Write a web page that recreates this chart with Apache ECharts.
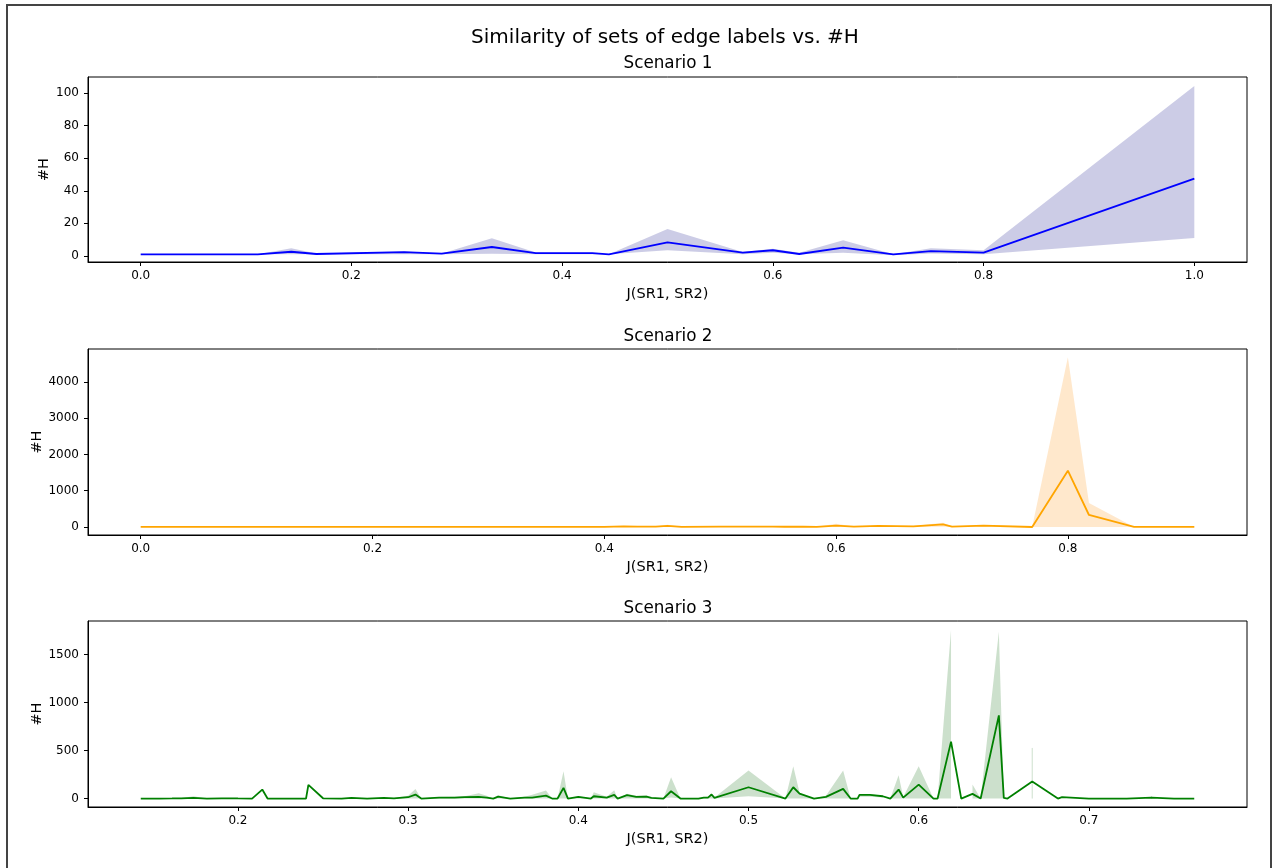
<!DOCTYPE html>
<html>
<head>
<meta charset="utf-8">
<script src="https://cdn.jsdelivr.net/npm/echarts@6/dist/echarts.min.js"></script>
<style>
  html, body { margin: 0; padding: 0; background: #fff; }
  #chart { width: 1275px; height: 868px; }
</style>
</head>
<body>
<div id="chart"></div>
<script>
// Scenario 1: J(SR1, SR2) against #H — mean line with a min/max band
var S1_X    = [0.0, 0.1111, 0.1429, 0.1667, 0.25, 0.2857, 0.3333, 0.375, 0.4286, 0.4444, 0.5, 0.5714, 0.6, 0.625, 0.6667, 0.7143, 0.75, 0.8, 1.0];
var S1_MEAN = [1.0, 1.0, 2.6, 1.2, 2.4, 1.4, 5.5, 1.8, 1.8, 1.0, 8.3, 2.0, 3.5, 1.2, 5.1, 1.0, 3.0, 2.0, 47.4];
var S1_LO   = [1.0, 1.0, 1.0, 1.0, 1.0, 1.0, 1.4, 1.0, 1.0, 1.0, 3.5, 1.0, 2.0, 1.0, 2.0, 0.5, 1.5, 1.0, 11.0];
var S1_HI   = [1.0, 1.0, 4.7, 1.5, 2.8, 1.5, 10.8, 2.2, 2.0, 1.0, 16.5, 2.5, 4.5, 2.0, 9.6, 1.0, 4.7, 3.5, 104.3];

// Scenario 2
var S2_X    = [0.0, 0.0588, 0.0909, 0.125, 0.1667, 0.2, 0.2222, 0.25, 0.2727, 0.2857, 0.3, 0.3333, 0.3571, 0.375, 0.4, 0.4167, 0.4286, 0.4444, 0.4545, 0.4667, 0.5, 0.5263, 0.5455, 0.5556, 0.5714, 0.5833, 0.6, 0.6154, 0.6364, 0.6667, 0.6923, 0.7, 0.7273, 0.7692, 0.8, 0.8182, 0.8571, 0.875, 0.9091];
var S2_MEAN = [1, 1, 1, 1, 1, 2, 1, 2, 1, 4, 2, 3, 2, 5, 3, 18, 8, 10, 28, 5, 10, 8, 12, 6, 10, 5, 40, 8, 28, 15, 70, 10, 40, 0, 1554, 331, 2, 1, 1];
var S2_LO   = [1, 1, 1, 1, 1, 1, 1, 1, 1, 1, 1, 1, 1, 1, 1, 5, 1, 1, 5, 1, 2, 1, 2, 1, 2, 1, 5, 1, 5, 2, 10, 1, 10, 0, 0, 0, 0, 1, 1];
var S2_HI   = [1, 1, 1, 1, 1, 3, 1, 3, 1, 8, 3, 5, 3, 10, 5, 25, 12, 15, 64, 8, 18, 12, 18, 10, 15, 8, 92, 12, 40, 25, 120, 15, 55, 0, 4680, 662, 2, 1, 1];

// Scenario 3 (null = no band at that point)
var S3_X    = [0.1429, 0.1538, 0.1613, 0.1667, 0.1739, 0.1818, 0.1905, 0.2, 0.2083, 0.2143, 0.2174, 0.2333, 0.24, 0.2414, 0.25, 0.2609, 0.2667, 0.2759, 0.2857, 0.2917, 0.3, 0.3043, 0.3077, 0.3182, 0.3273, 0.3333, 0.3415, 0.3462, 0.35, 0.3529, 0.36, 0.3684, 0.3729, 0.381, 0.3846, 0.3878, 0.3913, 0.3939, 0.4, 0.4074, 0.4091, 0.4167, 0.4211, 0.4231, 0.4286, 0.434, 0.44, 0.4429, 0.45, 0.4545, 0.46, 0.4706, 0.4737, 0.4762, 0.4783, 0.48, 0.5, 0.5217, 0.5263, 0.53, 0.5385, 0.5455, 0.5556, 0.56, 0.5641, 0.5652, 0.5714, 0.5789, 0.5833, 0.5882, 0.5909, 0.6, 0.6087, 0.6111, 0.619, 0.625, 0.6316, 0.6364, 0.6471, 0.65, 0.6522, 0.6667, 0.6818, 0.6842, 0.7, 0.7222, 0.7368, 0.75, 0.7619];
var S3_MEAN = [0, 0, 1, 2, 7, 0, 3, 1, 0, 94, 0, 0, 0, 142, 3, 0, 7, 0, 7, 3, 14, 42, 0, 10, 10, 14, 17, 10, 0, 21, 0, 10, 10, 31, 0, 0, 111, 0, 17, 0, 24, 10, 38, 0, 35, 17, 21, 7, 0, 76, 0, 0, 10, 10, 42, 7, 118, 0, 118, 52, 0, 17, 101, 0, 0, 38, 38, 24, 0, 94, 10, 146, 0, 0, 594, 0, 49, 0, 868, 7, 0, 177, 0, 14, 0, 0, 10, 0, 0];
var S3_LO   = [0, 0, 0, 0, 0, 0, 0, 0, 0, 94, 0, 0, 0, 142, 0, 0, 0, 0, 0, 0, 0, 0, 0, 0, 0, 0, 0, 0, 0, 0, 0, 0, 0, 0, 0, 0, 0, 0, 0, 0, 0, 0, 0, 0, 0, 0, 0, 0, 0, 10, 0, 0, 0, 0, 0, 0, 24, 0, 0, 0, 0, 0, 0, 0, 0, 20, 20, 10, 0, 0, 0, 0, 0, 0, 0, null, 0, 0, 0, 0, null, 0, null, null, null, null, 0, null, null];
var S3_HI   = [0, 0, 4, 6, 24, 0, 6, 3, 0, 94, 0, 0, 0, 142, 5, 0, 12, 0, 12, 6, 30, 100, 0, 15, 18, 25, 55, 30, 0, 35, 0, 20, 40, 83, 0, 0, 285, 0, 25, 0, 66, 20, 87, 0, 49, 30, 35, 10, 0, 222, 0, 0, 15, 20, 55, 10, 292, 0, 337, 60, 0, 30, 292, 0, 0, 45, 45, 30, 0, 243, 15, 337, 0, 0, 1760, null, 146, 0, 1740, 7, null, 528, null, null, null, null, 25, null, null];

var X_TICKS_12 = [0.0, 0.2, 0.4, 0.6, 0.8, 1.0];
var X_TICKS_3  = [0.2, 0.3, 0.4, 0.5, 0.6, 0.7];
var Y_TICKS_1  = [0, 20, 40, 60, 80, 100];
var Y_TICKS_2  = [0, 1000, 2000, 3000, 4000];
var Y_TICKS_3  = [0, 500, 1000, 1500];

var FONT = '"DejaVu Sans", "Liberation Sans", sans-serif';

// contiguous runs of points that carry a band
function bandRuns(xs, lo, hi) {
  var runs = [], start = -1;
  for (var i = 0; i <= xs.length; i++) {
    var ok = i < xs.length && lo[i] != null && hi[i] != null;
    if (ok && start < 0) start = i;
    if (!ok && start >= 0) { runs.push([xs[start], lo[start], start, i - 1]); start = -1; }
  }
  return runs;
}

function bandSeries(idx, xs, lo, hi, color) {
  return {
    type: 'custom',
    xAxisIndex: idx, yAxisIndex: idx,
    z: 1,
    silent: true,
    data: bandRuns(xs, lo, hi),
    renderItem: function (params, api) {
      var s = api.value(2), e = api.value(3);
      if (s === e) {
        var a = api.coord([xs[s], lo[s]]), b = api.coord([xs[s], hi[s]]);
        return { type: 'line', shape: { x1: a[0], y1: a[1], x2: b[0], y2: b[1] },
                 style: { stroke: color, lineWidth: 1 } };
      }
      var pts = [];
      for (var i = s; i <= e; i++) pts.push(api.coord([xs[i], hi[i]]));
      for (var j = e; j >= s; j--) pts.push(api.coord([xs[j], lo[j]]));
      return { type: 'polygon', shape: { points: pts }, style: { fill: color, stroke: null } };
    }
  };
}

function lineSeries(idx, xs, ys, color) {
  return {
    type: 'line',
    xAxisIndex: idx, yAxisIndex: idx,
    z: 2,
    data: xs.map(function (x, i) { return [x, ys[i]]; }),
    showSymbol: false,
    symbol: 'none',
    lineStyle: { color: color, width: 1.8 },
    silent: true
  };
}

function xAxis(idx, min, max, ticks) {
  return {
    type: 'value', gridIndex: idx, min: min, max: max,
    name: 'J(SR1, SR2)', nameLocation: 'middle', nameGap: 25, nameMoveOverlap: false,
    nameTextStyle: { fontFamily: FONT, fontSize: 14.5, color: '#000' },
    axisLine: { show: true, onZero: false, lineStyle: { color: '#000', width: 1 } },
    axisTick: { show: true, length: 4, customValues: ticks, lineStyle: { color: '#000', width: 1 } },
    axisLabel: { customValues: ticks, margin: 8, fontFamily: FONT, fontSize: 12, color: '#000',
                 formatter: function (v) { return v.toFixed(1); } },
    splitLine: { show: false }
  };
}

function yAxis(idx, min, max, ticks, gap) {
  return {
    type: 'value', gridIndex: idx, min: min, max: max,
    name: '#H', nameLocation: 'middle', nameGap: gap, nameRotate: 90, nameMoveOverlap: false,
    nameTextStyle: { fontFamily: FONT, fontSize: 14.5, color: '#000' },
    axisLine: { show: true, onZero: false, lineStyle: { color: '#000', width: 1 } },
    axisTick: { show: true, length: 4, customValues: ticks, lineStyle: { color: '#000', width: 1 } },
    axisLabel: { customValues: ticks, margin: 9, fontFamily: FONT, fontSize: 12, color: '#000',
                 formatter: function (v) { return String(Math.round(v)); } },
    splitLine: { show: false }
  };
}

function titleText(text, x, y, size) {
  return { type: 'text', x: x, y: y, silent: true,
           style: { text: text, fontFamily: FONT, fontSize: size, fill: '#000',
                    align: 'center', verticalAlign: 'middle' } };
}

var chart = echarts.init(document.getElementById('chart'), null, { renderer: 'canvas' });
chart.setOption({
  animation: false,
  backgroundColor: '#fff',
  grid: [
    { left: 88, top: 77,  width: 1159, height: 185, show: true, borderColor: '#000', borderWidth: 1, containLabel: false },
    { left: 88, top: 349, width: 1159, height: 186, show: true, borderColor: '#000', borderWidth: 1, containLabel: false },
    { left: 88, top: 621, width: 1159, height: 186, show: true, borderColor: '#000', borderWidth: 1, containLabel: false }
  ],
  xAxis: [
    xAxis(0, -0.05, 1.05, X_TICKS_12),
    xAxis(1, -0.04545, 0.95455, X_TICKS_12),
    xAxis(2, 0.1119, 0.7929, X_TICKS_3)
  ],
  yAxis: [
    yAxis(0, -3.7, 109.8, Y_TICKS_1, 36),
    yAxis(1, -221, 4910, Y_TICKS_2, 43),
    yAxis(2, -88, 1852, Y_TICKS_3, 43)
  ],
  graphic: [
    { type: 'rect', shape: { x: 7, y: 5, width: 1264, height: 900 }, silent: true,
      style: { fill: null, stroke: '#444', lineWidth: 2 } },
    titleText('Similarity of sets of edge labels vs. #H', 665, 38, 20),
    titleText('Scenario 1', 668, 64, 16.8),
    titleText('Scenario 2', 668, 337, 16.8),
    titleText('Scenario 3', 668, 609, 16.8)
  ],
  series: [
    bandSeries(0, S1_X, S1_LO, S1_HI, 'rgba(0,0,128,0.2)'),
    lineSeries(0, S1_X, S1_MEAN, '#0000ff'),
    bandSeries(1, S2_X, S2_LO, S2_HI, 'rgba(255,140,0,0.2)'),
    lineSeries(1, S2_X, S2_MEAN, '#ffa500'),
    bandSeries(2, S3_X, S3_LO, S3_HI, 'rgba(0,100,0,0.2)'),
    lineSeries(2, S3_X, S3_MEAN, '#008000')
  ]
});
</script>
</body>
</html>
